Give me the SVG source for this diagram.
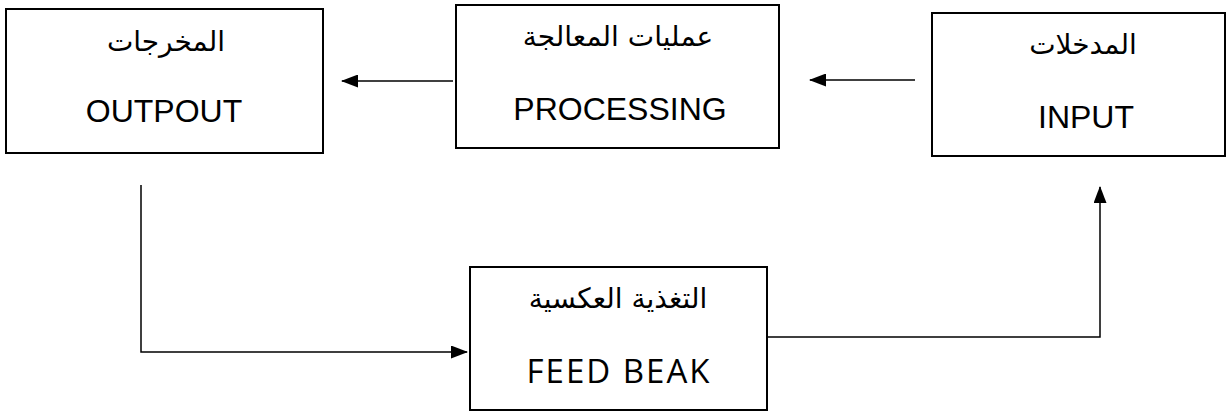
<svg xmlns="http://www.w3.org/2000/svg" width="1228" height="412" viewBox="0 0 1228 412">
<style>
.box{fill:#fff;stroke:#000;stroke-width:2}
.ar{font-family:"DejaVu Sans","Noto Sans",sans-serif;font-size:28px;text-anchor:middle;fill:#000}
.en{font-family:"Liberation Sans",Arial,sans-serif;font-size:32px;text-anchor:middle;fill:#000}
.en2{font-family:"Open Sans","Noto Sans",sans-serif;font-size:33px;letter-spacing:2px;text-anchor:middle;fill:#000}
.con{fill:none;stroke:#000;stroke-width:1.5}
</style>
<defs>
<marker id="arr" markerWidth="17" markerHeight="13" refX="16" refY="6.5" orient="auto" markerUnits="userSpaceOnUse">
<path d="M0,0 L17,6.5 L0,13 Z" fill="#000"/>
</marker>
</defs>
<rect width="1228" height="412" fill="#fff"/>
<g id="connectors">
<line class="con" x1="453" y1="81" x2="342" y2="81" marker-end="url(#arr)"/>
<line class="con" x1="915" y1="80" x2="810" y2="80" marker-end="url(#arr)"/>
<polyline class="con" points="141,185 141,352 467,352" marker-end="url(#arr)"/>
<polyline class="con" points="768,337 1100,337 1100,187" marker-end="url(#arr)"/>
</g>
<g id="output">
<rect class="box" x="6" y="9" width="317" height="144"/>
<text class="ar" x="166" y="51" direction="rtl">المخرجات</text>
<text class="en" x="164" y="122">OUTPOUT</text>
</g>
<g id="processing">
<rect class="box" x="456" y="5" width="323" height="143"/>
<text class="ar" x="618" y="46" direction="rtl">عمليات المعالجة</text>
<text class="en" x="620" y="120">PROCESSING</text>
</g>
<g id="input">
<rect class="box" x="932" y="13" width="293" height="143"/>
<text class="ar" x="1083" y="54" direction="rtl">المدخلات</text>
<text class="en" x="1086" y="128">INPUT</text>
</g>
<g id="feedback">
<rect class="box" x="470" y="267" width="297" height="143"/>
<text class="ar" x="618" y="308" direction="rtl">التغذية العكسية</text>
<text class="en2" x="619" y="383">FEED BEAK</text>
</g>
</svg>
